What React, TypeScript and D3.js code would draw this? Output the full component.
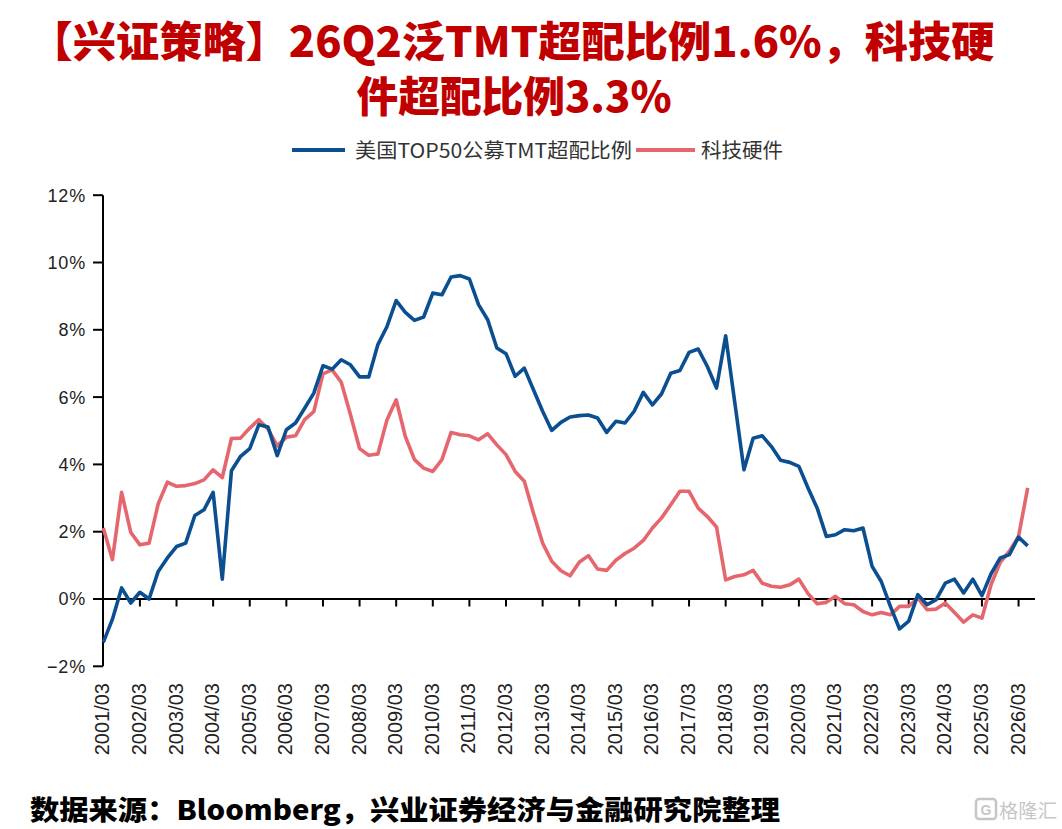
import React from "react";
import * as d3 from "d3";

const tmtOverweight: number[] = [
  -1.29, -0.6, 0.33, -0.12, 0.2, 0.0, 0.82, 1.22, 1.56, 1.66,
  2.48, 2.65, 3.17, 0.59, 3.81, 4.24, 4.47, 5.18, 5.11, 4.26,
  5.03, 5.23, 5.67, 6.12, 6.93, 6.83, 7.11, 6.96, 6.6, 6.6,
  7.56, 8.1, 8.87, 8.52, 8.28, 8.38, 9.09, 9.04, 9.57, 9.61,
  9.51, 8.75, 8.3, 7.46, 7.29, 6.62, 6.86, 6.22, 5.58, 5.01,
  5.25, 5.41, 5.45, 5.47, 5.38, 4.95, 5.28, 5.23, 5.58, 6.14,
  5.77, 6.1, 6.71, 6.79, 7.33, 7.43, 6.91, 6.27, 7.82, 5.83,
  3.84, 4.78, 4.85, 4.53, 4.12, 4.06, 3.94, 3.3, 2.7, 1.86,
  1.91, 2.06, 2.03, 2.11, 0.97, 0.52, -0.22, -0.89, -0.66, 0.13,
  -0.17, -0.02, 0.47, 0.59, 0.18, 0.59, 0.1, 0.75, 1.22, 1.32,
  1.84, 1.58,
];

const techHardware: number[] = [
  2.11, 1.17, 3.17, 1.98, 1.61, 1.66, 2.83, 3.47, 3.35, 3.37,
  3.43, 3.54, 3.84, 3.61, 4.77, 4.78, 5.08, 5.33, 5.05, 4.55,
  4.81, 4.85, 5.33, 5.57, 6.69, 6.81, 6.44, 5.48, 4.47, 4.27,
  4.31, 5.33, 5.92, 4.83, 4.14, 3.89, 3.79, 4.14, 4.95, 4.88,
  4.85, 4.73, 4.91, 4.58, 4.29, 3.79, 3.5, 2.55, 1.66, 1.12,
  0.84, 0.69, 1.09, 1.29, 0.89, 0.85, 1.15, 1.35, 1.51, 1.74,
  2.11, 2.41, 2.8, 3.2, 3.2, 2.7, 2.45, 2.14, 0.57, 0.67,
  0.72, 0.85, 0.47, 0.38, 0.35, 0.42, 0.59, 0.16, -0.14, -0.1,
  0.08, -0.14, -0.17, -0.37, -0.47, -0.4, -0.47, -0.22, -0.22, 0.03,
  -0.32, -0.3, -0.12, -0.4, -0.69, -0.47, -0.57, 0.43, 1.09, 1.42,
  1.86, 3.3,
];

const xTickLabels: string[] = [
  "2001/03", "2002/03", "2003/03", "2004/03", "2005/03", "2006/03",
  "2007/03", "2008/03", "2009/03", "2010/03", "2011/03", "2012/03",
  "2013/03", "2014/03", "2015/03", "2016/03", "2017/03", "2018/03",
  "2019/03", "2020/03", "2021/03", "2022/03", "2023/03", "2024/03",
  "2025/03", "2026/03",
];

const yTicks: number[] = [-2, 0, 2, 4, 6, 8, 10, 12];

const seriesNames = ["美国TOP50公募TMT超配比例", "科技硬件"];

const BLUE = "#0B4F91";
const RED = "#E5666D";
const TITLE_RED = "#C00000";

export default function App() {
  const W = 1062;
  const H = 829;
  const n = tmtOverweight.length;
  const x = d3.scaleLinear().domain([0, n - 1]).range([103.3, 1027.7]);
  const y = d3.scaleLinear().domain([-2, 12]).range([666.3, 195.2]);
  const line = d3
    .line<number>()
    .x((_, i) => x(i))
    .y((d) => y(d));

  const axisX0 = 103;
  const axisXEnd = 1035;
  const zeroY = y(0);
  const cjk = "'Noto Sans CJK SC', 'Noto Sans', sans-serif";
  const latin = "'Liberation Sans', Arial, sans-serif";

  return (
    <svg
      width={W}
      height={H}
      viewBox={`0 0 ${W} ${H}`}
      style={{ position: "absolute", left: 0, top: 0, background: "#fff" }}
    >
      <rect x={0} y={0} width={W} height={H} fill="#fff" />
      {/* Title */}
      <text
        x={512}
        y={57}
        textAnchor="middle"
        fontFamily={cjk}
        fontWeight={900}
        fontSize={42}
        fill={TITLE_RED}
        textLength={965}
        lengthAdjust="spacingAndGlyphs"
      >
        【兴证策略】26Q2泛TMT超配比例1.6%，科技硬
      </text>
      <text
        x={514}
        y={112}
        textAnchor="middle"
        fontFamily={cjk}
        fontWeight={900}
        fontSize={42}
        fill={TITLE_RED}
        textLength={315}
        lengthAdjust="spacingAndGlyphs"
      >
        件超配比例3.3%
      </text>

      {/* Legend */}
      <line x1={292} x2={345} y1={150} y2={150} stroke={BLUE} strokeWidth={4} />
      <text
        x={355}
        y={157.5}
        fontFamily={cjk}
        fontSize={20}
        fill="#333"
        textLength={277}
        lengthAdjust="spacingAndGlyphs"
      >
        {seriesNames[0]}
      </text>
      <line x1={636} x2={695} y1={150} y2={150} stroke={RED} strokeWidth={4} />
      <text
        x={701}
        y={157.5}
        fontFamily={cjk}
        fontSize={20}
        fill="#333"
        textLength={82}
        lengthAdjust="spacingAndGlyphs"
      >
        {seriesNames[1]}
      </text>

      {/* Y axis */}
      <line x1={axisX0} x2={axisX0} y1={y(12)} y2={y(-2)} stroke="#000" strokeWidth={2} />
      {yTicks.map((t) => (
        <g key={t}>
          <line x1={93} x2={axisX0} y1={y(t)} y2={y(t)} stroke="#000" strokeWidth={2} />
          <text
            x={86}
            y={y(t)}
            dy="0.36em"
            textAnchor="end"
            fontFamily={latin}
            fontSize={18}
            letterSpacing={0.8}
            fill="#222"
          >
            {t < 0 ? `−${Math.abs(t)}%` : `${t}%`}
          </text>
        </g>
      ))}

      {/* X axis at zero */}
      <line x1={axisX0} x2={axisXEnd} y1={zeroY} y2={zeroY} stroke="#000" strokeWidth={2} />
      {xTickLabels.map((lab, k) => {
        const xi = x(k * 4);
        return (
          <g key={lab}>
            {k > 0 && (
              <line x1={xi} x2={xi} y1={zeroY} y2={zeroY + 7.5} stroke="#000" strokeWidth={2} />
            )}
            <text
              transform={`translate(${xi - 1},683) rotate(-90)`}
              textAnchor="end"
              dominantBaseline="central"
              fontFamily={latin}
              fontSize={20}
              fill="#222"
            >
              {lab}
            </text>
          </g>
        );
      })}

      {/* Series */}
      <path
        d={line(techHardware) || ""}
        fill="none"
        stroke={RED}
        strokeWidth={3.6}
        strokeLinejoin="round"
      />
      <path
        d={line(tmtOverweight) || ""}
        fill="none"
        stroke={BLUE}
        strokeWidth={3.6}
        strokeLinejoin="round"
      />

      {/* Source */}
      <text
        x={30}
        y={820}
        fontFamily={cjk}
        fontWeight={900}
        fontSize={27}
        fill="#000"
        textLength={750}
        lengthAdjust="spacingAndGlyphs"
      >
        数据来源：Bloomberg，兴业证券经济与金融研究院整理
      </text>

      {/* Watermark */}
      <g opacity={0.55}>
        <rect x={976} y={799} width={20} height={20} rx={3} fill="none" stroke="#999" strokeWidth={2.5} />
        <text x={986} y={815} textAnchor="middle" fontFamily={latin} fontWeight={700} fontSize={14} fill="#999">
          G
        </text>
        <text x={999} y={818} fontFamily={cjk} fontSize={19} fill="#999" textLength={58} lengthAdjust="spacingAndGlyphs">
          格隆汇
        </text>
      </g>
    </svg>
  );
}
